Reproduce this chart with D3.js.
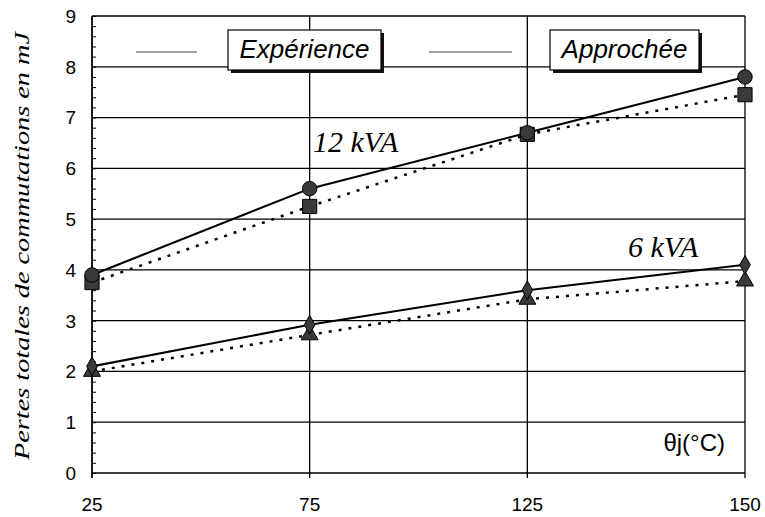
<!DOCTYPE html>
<html>
<head>
<meta charset="utf-8">
<script src="https://cdn.jsdelivr.net/npm/d3@7"></script>
<style>
  body { margin: 0; background: #fff; }
  svg { display: block; }
</style>
</head>
<body>
<div id="chart"></div>
<script>
    // data
    const temps = ["25", "75", "125", "150"];
    const yTicks = [0, 1, 2, 3, 4, 5, 6, 7, 8, 9];
    const exp12 = [3.9, 5.6, 6.7, 7.8];   // Expérience 12 kVA (circles)
    const app12 = [3.75, 5.25, 6.67, 7.45]; // Approchée 12 kVA (squares)
    const exp6 = [2.1, 2.92, 3.6, 4.1];    // Expérience 6 kVA (diamonds)
    const app6 = [2.0, 2.72, 3.42, 3.78];  // Approchée 6 kVA (triangles)

    const w = 765;
    const h = 517;
    const padL = 92, padR = 745, padT = 16, padB = 473;

    const svg = d3.select('#chart')
        .append('svg')
        .attr('width', w)
        .attr('height', h);

    const xScale = d3.scalePoint()
        .domain(temps)
        .range([padL, padR])
        .padding(0);

    const yScale = d3.scaleLinear()
        .domain([0, 9])
        .range([padB, padT]);

    // horizontal grid
    svg.append('g')
        .selectAll('line')
        .data(yTicks)
        .enter().append('line')
        .attr('x1', padL).attr('x2', padR)
        .attr('y1', d => yScale(d)).attr('y2', d => yScale(d))
        .attr('stroke', '#000')
        .attr('stroke-width', d => d === 0 || d === 9 ? 1.6 : 1.3);

    // vertical grid / frame
    svg.append('g')
        .selectAll('line')
        .data(temps)
        .enter().append('line')
        .attr('x1', d => xScale(d)).attr('x2', d => xScale(d))
        .attr('y1', padT).attr('y2', padB + 5)
        .attr('stroke', '#000')
        .attr('stroke-width', (d, i) => i === 0 ? 1.8 : 1.3);

    // y axis with minor ticks pointing inward
    const yAxis = d3.axisLeft(yScale)
        .tickValues(d3.range(0, 9.01, 0.2))
        .tickSize(-4)
        .tickFormat('');
    svg.append('g')
        .attr('transform', 'translate(' + padL + ',0)')
        .call(yAxis)
        .call(g => g.select('.domain').remove())
        .selectAll('line').attr('stroke', '#000');

    // y labels
    svg.append('g')
        .selectAll('text')
        .data(yTicks)
        .enter().append('text')
        .attr('x', 76)
        .attr('y', d => yScale(d))
        .attr('dy', '0.36em')
        .attr('text-anchor', 'end')
        .style('font-family', '"Liberation Sans", Arial, sans-serif')
        .style('font-size', '19px')
        .text(d => d);

    // x labels
    svg.append('g')
        .selectAll('text')
        .data(temps)
        .enter().append('text')
        .attr('x', d => xScale(d))
        .attr('y', 511)
        .attr('text-anchor', 'middle')
        .style('font-family', '"Liberation Sans", Arial, sans-serif')
        .style('font-size', '19px')
        .text(d => d);

    // y title
    svg.append('text')
        .attr('transform', 'translate(29,246) rotate(-90)')
        .attr('text-anchor', 'middle')
        .attr('textLength', 428)
        .attr('lengthAdjust', 'spacingAndGlyphs')
        .style('font-family', '"Liberation Serif", "Times New Roman", serif')
        .style('font-style', 'italic')
        .style('font-size', '22px')
        .text('Pertes totales de commutations en mJ');

    // lines
    const line = d3.line()
        .x((d, i) => xScale(temps[i]))
        .y(d => yScale(d));

    [exp12, exp6].forEach(s => {
        svg.append('path')
            .datum(s)
            .attr('d', line)
            .attr('fill', 'none')
            .attr('stroke', '#000')
            .attr('stroke-width', 2.1);
    });
    [app12, app6].forEach(s => {
        svg.append('path')
            .datum(s)
            .attr('d', line)
            .attr('fill', 'none')
            .attr('stroke', '#000')
            .attr('stroke-width', 2.5)
            .attr('stroke-dasharray', '3,7');
    });

    // markers
    function markers(data, type, size) {
        svg.append('g')
            .selectAll('path')
            .data(data)
            .enter().append('path')
            .attr('transform', (d, i) => 'translate(' + xScale(temps[i]) + ',' + yScale(d) + ')')
            .attr('d', d3.symbol().type(type).size(size))
            .attr('fill', '#3a3a3a')
            .attr('stroke', '#000')
            .attr('stroke-width', 1);
    }
    markers(app12, d3.symbolSquare, 200);
    markers(exp12, d3.symbolCircle, 165);
    markers(app6, d3.symbolTriangle, 125);
    markers(exp6, d3.symbolDiamond, 100);

    // series labels
    svg.append('text')
        .attr('x', 313).attr('y', 152)
        .style('font-family', '"Liberation Serif", "Times New Roman", serif')
        .style('font-style', 'italic')
        .style('font-size', '30px')
        .text('12 kVA');
    svg.append('text')
        .attr('x', 628).attr('y', 257)
        .style('font-family', '"Liberation Serif", "Times New Roman", serif')
        .style('font-style', 'italic')
        .style('font-size', '30px')
        .text('6 kVA');

    svg.append('text')
        .attr('x', 725).attr('y', 451)
        .attr('text-anchor', 'end')
        .style('font-family', '"Liberation Sans", Arial, sans-serif')
        .style('font-size', '24px')
        .text('θj(°C)');

    // legend
    const legendItems = [
        { name: 'Expérience', lx1: 136, lx2: 197, bx: 228, bw: 153 },
        { name: 'Approchée', lx1: 429, lx2: 512, bx: 550, bw: 149 }
    ];
    const legend = svg.selectAll('.legend')
        .data(legendItems)
        .enter().append('g')
        .attr('class', 'legend');

    legend.append('line')
        .attr('x1', d => d.lx1).attr('x2', d => d.lx2)
        .attr('y1', 52).attr('y2', 52)
        .attr('stroke', '#444')
        .attr('stroke-width', 1);

    legend.append('rect')
        .attr('x', d => d.bx + 3).attr('y', 33)
        .attr('width', d => d.bw).attr('height', 40)
        .attr('fill', '#111');

    legend.append('rect')
        .attr('x', d => d.bx).attr('y', 30)
        .attr('width', d => d.bw).attr('height', 40)
        .attr('fill', '#fff')
        .attr('stroke', '#000')
        .attr('stroke-width', 1.2);

    legend.append('text')
        .attr('x', d => d.bx + d.bw / 2)
        .attr('y', 58)
        .attr('text-anchor', 'middle')
        .style('font-family', '"Liberation Sans", Arial, sans-serif')
        .style('font-style', 'italic')
        .style('font-size', '26px')
        .text(d => d.name);
</script>
</body>
</html>
